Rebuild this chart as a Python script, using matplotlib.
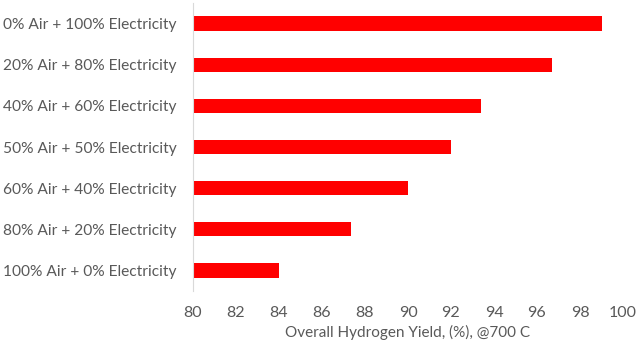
import matplotlib
matplotlib.use("Agg")
import matplotlib.pyplot as plt

categories = [
    "0% Air + 100% Electricity",
    "20% Air + 80% Electricity",
    "40% Air + 60% Electricity",
    "50% Air + 50% Electricity",
    "60% Air + 40% Electricity",
    "80% Air + 20% Electricity",
    "100% Air + 0% Electricity",
]
yields = [99.0, 96.7, 93.4, 92.0, 90.0, 87.35, 84.0]
x_ticks = list(range(80, 101, 2))

plt.rcParams['font.family'] = ['Lato', 'DejaVu Sans']
grey = '#595959'

fig = plt.figure(figsize=(6.4, 3.44), dpi=100)
ax = fig.add_axes([193 / 640, 1 - 291 / 344, 430 / 640, 288 / 344])

pos = list(range(len(categories)))
ax.barh(pos, [v - 80 for v in yields], left=80, height=0.35, color='#ff0000')
ax.set_ylim(len(categories) - 0.5, -0.5)
ax.set_xlim(80, 100)
ax.set_yticks(pos)
ax.set_yticklabels(categories, fontsize=11.2, color=grey)
ax.set_xticks(x_ticks)
ax.set_xticklabels([str(t) for t in x_ticks], fontsize=11.5, color=grey)
ax.tick_params(length=0)
ax.tick_params(axis='y', pad=12)
ax.tick_params(axis='x', pad=11)
ax.set_xlabel('Overall Hydrogen Yield, (%), @700 C', fontsize=11, color=grey, labelpad=3)

for s in ['top', 'right', 'bottom']:
    ax.spines[s].set_visible(False)
ax.spines['left'].set_color('#d9d9d9')

fig.savefig('out.png', dpi=100)
